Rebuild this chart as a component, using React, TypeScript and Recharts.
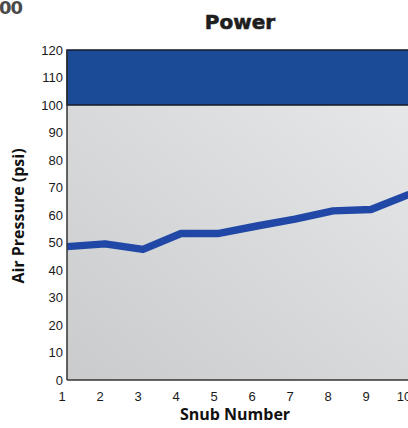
import {
  Line,
  LineChart,
  ReferenceArea,
  XAxis,
  YAxis,
} from "recharts";

const snubNumbers = [1, 2, 3, 4, 5, 6, 7, 8, 9, 10];
const airPressure = [48.5, 49.5, 47.5, 53.3, 53.3, 56, 58.5, 61.5, 62, 67.5];
const yTicks = [0, 10, 20, 30, 40, 50, 60, 70, 80, 90, 100, 110, 120];

const data = snubNumbers.map((snub, i) => ({ snub, psi: airPressure[i] }));

const labelFont = "'Open Sans', 'DejaVu Sans', sans-serif";
const tickFont = "'Liberation Sans', Arial, sans-serif";

export default function App() {
  return (
    <div
      style={{
        position: "fixed",
        left: 0,
        top: 0,
        width: 408,
        height: 428,
        overflow: "hidden",
        background: "#fff",
      }}
    >
      <span
        style={{
          position: "absolute",
          left: -1,
          top: -2,
          lineHeight: "19px",
          fontFamily: "'DejaVu Sans', sans-serif",
          fontWeight: 700,
          fontSize: 18,
          letterSpacing: -1,
          color: "#4a4a4a",
        }}
      >
        00
      </span>
      <LineChart
        width={440}
        height={428}
        data={data}
        margin={{ top: 50, right: 31, bottom: 8, left: 0 }}
      >
        <defs>
          <linearGradient id="plotBg" x1="0" y1="1" x2="1" y2="0">
            <stop offset="0%" stopColor="#c9cbcd" />
            <stop offset="100%" stopColor="#e6e7e8" />
          </linearGradient>
        </defs>
        <text
          x={240}
          y={29}
          textAnchor="middle"
          fontFamily="'DejaVu Sans', sans-serif"
          fontWeight={900}
          fontSize={20}
          fill="#1e1e1e"
          stroke="#1e1e1e"
          strokeWidth={0.6}
        >
          Power
        </text>
        <text
          x={235}
          y={420}
          textAnchor="middle"
          fontFamily={labelFont}
          fontWeight={700}
          fontSize={16}
          fill="#111"
        >
          Snub Number
        </text>
        <text
          x={24}
          y={216}
          textAnchor="middle"
          transform="rotate(-90 24 216)"
          fontFamily={labelFont}
          fontWeight={700}
          fontSize={16}
          fill="#111"
        >
          Air Pressure (psi)
        </text>
        <ReferenceArea y1={0} y2={100} fill="url(#plotBg)" fillOpacity={1} stroke="none" />
        <ReferenceArea
          y1={100}
          y2={120}
          fill="#1b4a96"
          fillOpacity={1}
          stroke="#151a2a"
          strokeWidth={1.5}
        />
        <XAxis
          dataKey="snub"
          type="number"
          domain={[1, 10]}
          ticks={snubNumbers}
          height={40}
          tickLine={false}
          tickSize={8}
          tickMargin={4}
          axisLine={{ stroke: "#333", strokeWidth: 1.5 }}
          tick={{ fill: "#1a1a1a", fontSize: 13, fontFamily: tickFont, dx: -5 }}
        />
        <YAxis
          domain={[0, 120]}
          ticks={yTicks}
          width={67}
          tickLine={false}
          tickSize={2}
          tickMargin={2}
          axisLine={{ stroke: "#333", strokeWidth: 1.5 }}
          tick={{ fill: "#1a1a1a", fontSize: 13, fontFamily: tickFont }}
        />
        <Line
          type="linear"
          dataKey="psi"
          stroke="#2148a6"
          strokeWidth={7.5}
          strokeLinejoin="round"
          dot={false}
          isAnimationActive={false}
        />
      </LineChart>
    </div>
  );
}
